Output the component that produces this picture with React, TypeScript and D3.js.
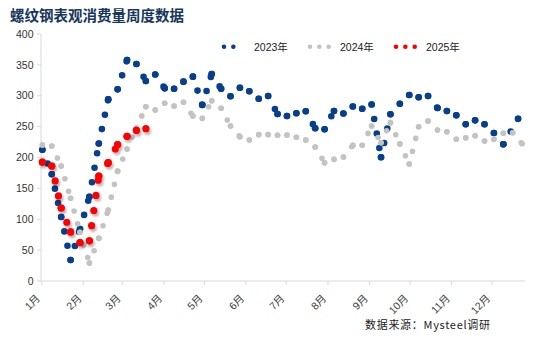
import React from "react";
import * as d3 from "d3";

const W = 536;
const H = 339;

// shared weekly categories (month-day, mapped onto the 2024 calendar axis)
const weeks = [
  "01-04", "01-11", "01-18", "01-25", "02-01", "02-08", "02-15", "02-22", "02-29",
  "03-07", "03-14", "03-21", "03-28", "04-04", "04-11", "04-18", "04-25",
  "05-02", "05-09", "05-16", "05-23", "05-30", "06-06", "06-13", "06-20", "06-27",
  "07-04", "07-11", "07-18", "07-25", "08-01", "08-08", "08-15", "08-22", "08-29",
  "09-05", "09-12", "09-19", "09-26", "10-03", "10-10", "10-17", "10-24", "10-31",
  "11-07", "11-14", "11-21", "11-28", "12-05", "12-12", "12-19", "12-26",
];

const monthLabels = ["1月", "2月", "3月", "4月", "5月", "6月", "7月", "8月", "9月", "10月", "11月", "12月"];
const yTicks = [0, 50, 100, 150, 200, 250, 300, 350, 400];

const values2023 = [
  212.5, 172.8, 103.6, 34, 84.2, 136.5, 222.7, 294.3, 310.4, 357.9,
  351.4, 323.9, 334.4, 312, 311.4, 322.8, 330.9, 285, 335.2, 311.4,
  299.1, 313, 307.2, 295.2, 299.6, 270.4, 267.2, 271.6, 274.8, 247.3,
  245.7, 275.3, 271.3, 282.6, 279, 285.8, 200.3, 270, 287.1, 301.2,
  297.5, 299.6, 280.2, 275.3, 268.3, 253.8, 260.2, 253.8, 239.7, 221.4,
  262.8,
];
const dates2023 = [...weeks.slice(0, 50), "12-23"];

const values2024 = [
  220.2, 218.6, 186.2, 133.9, 78.9, 29.1, 69.1, 115, 178, 213.8,
  247.8, 282.3, 276.9, 287.8, 283.4, 289.4, 267.2, 263.4, 292, 279.7,
  251, 233.7, 228.3, 237, 237, 236, 236.4, 232.7, 228.3, 217,
  191.6, 197, 200.8, 219.6, 219.8, 251, 224, 256.4, 222, 189.5,
  249.9, 259.1, 244.5, 241.8, 229.5, 232, 235.3, 226.7, 229.5, 239.2,
  240.2, 222.3,
];
const dates2024 = weeks;

const values2025 = [192.6, 186.2, 118.2, 79.4, 62, 65.1, 170, 191.6, 221, 234.3, 244, 246.6];
const dates2025 = weeks.slice(0, 12);

const parse = (md: string) => {
  const [m, d] = md.split("-").map(Number);
  return new Date(2024, m - 1, d);
};

type Series = {
  name: string;
  color: string;
  dates: string[];
  values: number[];
  width: number;
  gap: number;
  legendX: number;
  shadow: boolean;
};

const series: Series[] = [
  { name: "2023年", color: "#063f8e", dates: dates2023, values: values2023, width: 6.6, gap: 14.7, legendX: 224, shadow: false },
  { name: "2024年", color: "#c3c3c3", dates: dates2024, values: values2024, width: 5.6, gap: 13.2, legendX: 310, shadow: false },
  { name: "2025年", color: "#ff0000", dates: dates2025, values: values2025, width: 7.2, gap: 15.3, legendX: 396, shadow: true },
];

export default function App() {
  const x = d3
    .scaleTime()
    .domain([new Date(2024, 0, 3, 12), new Date(2024, 11, 28, 12)])
    .range([41.7, 525.5]);
  const y = d3.scaleLinear().domain([0, 400]).range([281, 34]);
  const line = d3.line<[number, number]>();
  const monthTicks = monthLabels.map((_, i) => new Date(2024, i, 3, 12));
  const axisColor = "#d9d9d9";
  const font = "'Liberation Sans', Arial, 'Noto Sans CJK SC', sans-serif";

  return (
    <svg
      width={W}
      height={H}
      style={{ position: "absolute", left: 0, top: 0, background: "#fff" }}
      fontFamily={font}
    >
      <defs>
        <filter id="shadow" x="-50%" y="-50%" width="200%" height="200%">
          <feDropShadow dx="1.5" dy="2.5" stdDeviation="1.2" floodColor="#000" floodOpacity="0.3" />
        </filter>
      </defs>
      <rect width={W} height={H} fill="#fff" />

      {/* title */}
      <text x={10} y={20.5} fontSize={14.5} fontWeight="bold" fill="#17365d" fontFamily="'Noto Sans CJK SC', sans-serif">
        螺纹钢表观消费量周度数据
      </text>

      {/* y axis */}
      <line x1={41} x2={41} y1={y(400)} y2={y(0)} stroke={axisColor} />
      {yTicks.map((t) => (
        <g key={t}>
          <line x1={37} x2={41} y1={y(t)} y2={y(t)} stroke={axisColor} />
          <text x={33.5} y={y(t)} dy="0.35em" textAnchor="end" fontSize={10.5} fill="#333">
            {t}
          </text>
        </g>
      ))}

      {/* x axis */}
      <line x1={41} x2={525} y1={y(0)} y2={y(0)} stroke={axisColor} />
      {monthTicks.map((d, i) => (
        <g key={i} transform={`translate(${x(d)},${y(0)})`}>
          <line y1={0} y2={4} stroke={axisColor} />
          <text
            transform="translate(-1,18) rotate(-45)"
            textAnchor="end"
            fontSize={10.5}
            fill="#404040"
          >
            {monthLabels[i]}
          </text>
        </g>
      ))}

      {/* series as round-dot lines, pattern restarting at each point */}
      {series.map((s) => {
        const pts: [number, number][] = s.dates.map((d, i) => [x(parse(d)), y(s.values[i])]);
        return (
          <g key={s.name} filter={s.shadow ? "url(#shadow)" : undefined}>
            {pts.slice(0, -1).map((p, i) => (
              <path
                key={i}
                d={line([p, pts[i + 1]]) || ""}
                fill="none"
                stroke={s.color}
                strokeWidth={s.width}
                strokeLinecap="round"
                strokeDasharray={`0 ${s.gap}`}
              />
            ))}
            {pts.map((p, i) => (
              <circle key={"c" + i} cx={p[0]} cy={p[1]} r={s.width / 2} fill={s.color} />
            ))}
          </g>
        );
      })}

      {/* legend */}
      {series.map((s) => (
        <g key={"lg" + s.name}>
          <path
            d={line([[s.legendX, 46.7], [s.legendX + 18.7, 46.7]]) || ""}
            stroke={s.color}
            strokeWidth={4.6}
            strokeLinecap="round"
            strokeDasharray="0 9.35"
            fill="none"
          />
          <text x={s.legendX + 30} y={50.5} fontSize={10.5} fill="#222">
            {s.name}
          </text>
        </g>
      ))}

      {/* source */}
      <text
        x={365}
        y={329}
        fontSize={11}
        fill="#222"
        fontFamily="'Noto Sans CJK SC', sans-serif"
        textLength={125}
        lengthAdjust="spacing"
      >
        数据来源：Mysteel调研
      </text>
    </svg>
  );
}
